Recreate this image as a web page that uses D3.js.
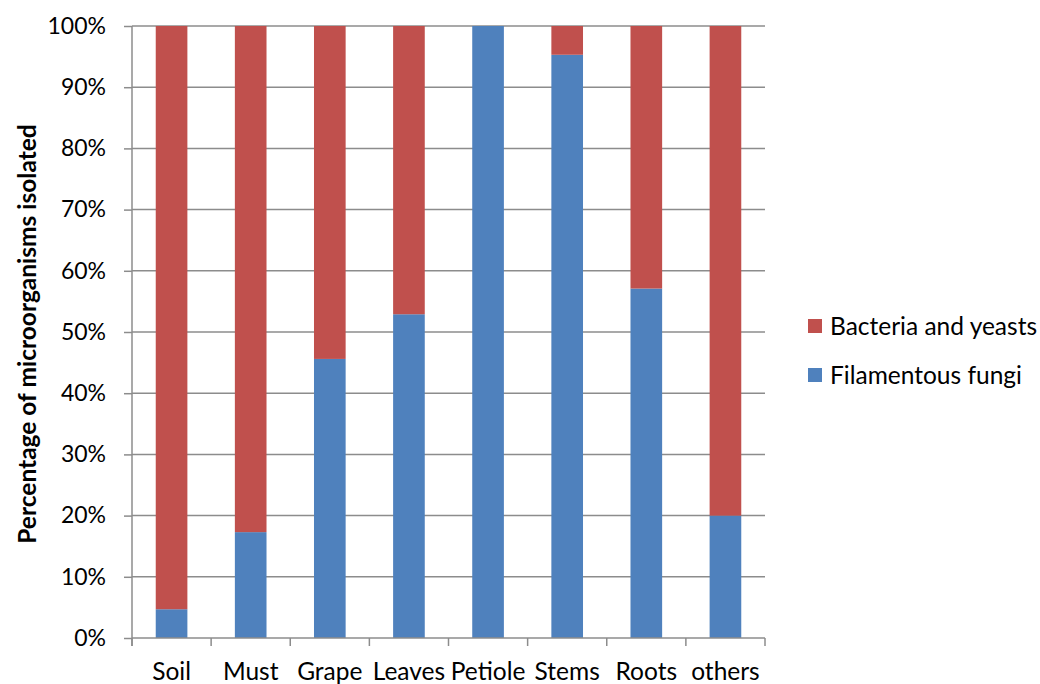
<!DOCTYPE html>
<html>
<head>
<meta charset="utf-8">
<script src="https://cdn.jsdelivr.net/npm/d3@7"></script>
<style>
  html, body { margin: 0; padding: 0; background: #fff; }
  svg { display: block; }
  text { font-family: Lato, "Open Sans", sans-serif; fill: #000; }
</style>
</head>
<body>
<svg id="chart" width="1040" height="684"></svg>
<script>
const categories = ["Soil", "Must", "Grape", "Leaves", "Petiole", "Stems", "Roots", "others"];
const fungi = [4.7, 17.3, 45.6, 52.9, 100, 95.3, 57.1, 20.0];
const bacteria = [95.3, 82.7, 54.4, 47.1, 0, 4.7, 42.9, 80.0];
const seriesNames = ["Filamentous fungi", "Bacteria and yeasts"];
const seriesColors = ["#4F81BD", "#C0504D"];
const yTicks = [0, 10, 20, 30, 40, 50, 60, 70, 80, 90, 100];

const svg = d3.select("#chart");
const pLeft = 132, pRight = 765, pTop = 26, pBottom = 638;

const x = d3.scaleBand().domain(categories).range([pLeft, pRight]).paddingInner(0.6).paddingOuter(0.3);
const xb = d3.scaleBand().domain(categories).range([pLeft, pRight]);
const y = d3.scaleLinear().domain([0, 100]).range([pBottom, pTop]);

// gridlines
svg.append("g").selectAll("line").data(yTicks.filter(d => d > 0)).join("line")
  .attr("x1", pLeft).attr("x2", pRight)
  .attr("y1", d => y(d)).attr("y2", d => y(d))
  .attr("stroke", "#8c8c8c").attr("stroke-width", 1.5);

// stacked data
const rows = categories.map((c, i) => ({cat: c, fungi: fungi[i], bacteria: bacteria[i]}));
const stacked = d3.stack().keys(["fungi", "bacteria"])(rows);

svg.append("g").selectAll("g").data(stacked).join("g")
  .attr("fill", (d, i) => seriesColors[i])
  .selectAll("rect").data(d => d).join("rect")
  .attr("x", d => x(d.data.cat))
  .attr("width", x.bandwidth())
  .attr("y", d => y(d[1]))
  .attr("height", d => y(d[0]) - y(d[1]));

// y axis
const yAxis = svg.append("g").attr("transform", `translate(${pLeft},0)`)
  .call(d3.axisLeft(y).tickValues(yTicks).tickFormat(d => d + "%").tickSize(8).tickPadding(18));
yAxis.select(".domain").attr("stroke", "#8c8c8c").attr("stroke-width", 1.5).attr("d", `M0,${pTop}V${pBottom + 8}`);
yAxis.selectAll(".tick line").attr("stroke", "#8c8c8c").attr("stroke-width", 1.5);
yAxis.selectAll(".tick text").attr("font-size", 23).attr("font-family", "Lato, sans-serif").attr("fill", "#000");

// x axis
const xAxis = svg.append("g").attr("transform", `translate(0,${pBottom})`)
  .call(d3.axisBottom(xb).tickSize(0).tickPadding(0));
xAxis.select(".domain").attr("stroke", "#8c8c8c").attr("stroke-width", 1.5).attr("d", `M${pLeft},0H${pRight}`);
xAxis.selectAll(".tick").remove();
const bounds = categories.map(c => xb(c)).concat([pRight]);
xAxis.selectAll("line.bt").data(bounds).join("line").attr("class", "bt")
  .attr("x1", d => d).attr("x2", d => d).attr("y1", 0).attr("y2", 8)
  .attr("stroke", "#8c8c8c").attr("stroke-width", 1.5);
svg.append("g").selectAll("text").data(categories).join("text")
  .attr("x", d => xb(d) + xb.bandwidth() / 2)
  .attr("y", 680)
  .attr("text-anchor", "middle")
  .attr("font-size", 24.5)
  .text(d => d);

// y title
svg.append("text")
  .attr("transform", `translate(36,${(pTop + pBottom) / 2 + 2}) rotate(-90)`)
  .attr("text-anchor", "middle")
  .attr("font-size", 24.5)
  .attr("font-weight", "bold")
  .text("Percentage of microorganisms isolated");

// legend
const legendOrder = [1, 0];
const lg = svg.append("g");
legendOrder.forEach((si, k) => {
  const yy = 326 + k * 49;
  lg.append("rect").attr("x", 808).attr("y", yy - 7).attr("width", 14).attr("height", 14).attr("fill", seriesColors[si]);
  lg.append("text").attr("x", 830).attr("y", yy + 8.5).attr("font-size", 24.5).text(seriesNames[si]);
});
</script>
</body>
</html>
